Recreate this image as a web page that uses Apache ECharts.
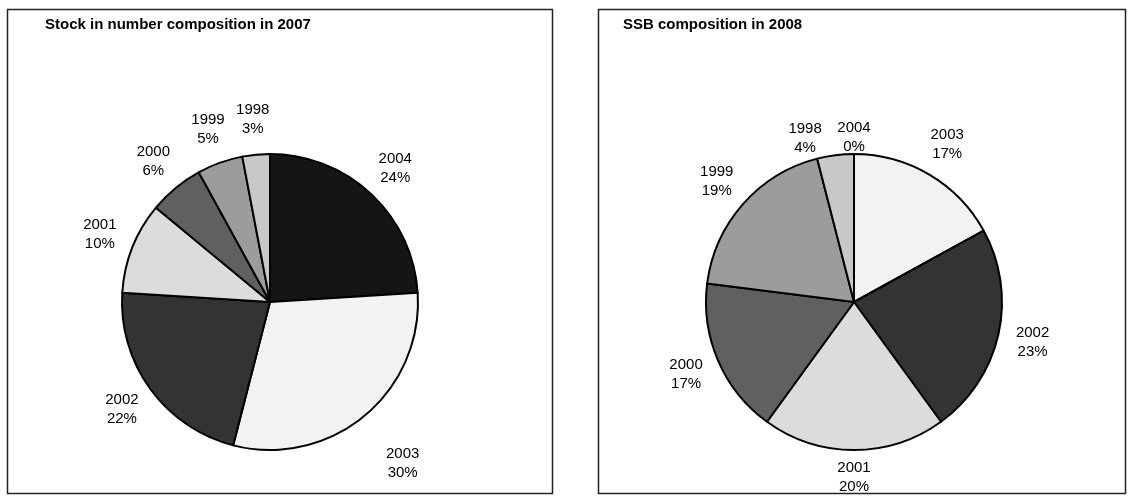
<!DOCTYPE html>
<html>
<head>
    <meta charset="UTF-8">
    <title>Stock and SSB composition</title>
    <script src="https://cdn.jsdelivr.net/npm/echarts@6/dist/echarts.min.js"></script>
    <style>
        html, body { margin: 0; padding: 0; background: #fff; }
        #chart { width: 1133px; height: 496px; }
    </style>
</head>
<body>
    <div id="chart"></div>
    <script>
        // year classes, clockwise from 12 o'clock
        const years = ['2004', '2003', '2002', '2001', '2000', '1999', '1998'];
        // stock in number, 2007 (%)
        const stock2007 = [24, 30, 22, 10, 6, 5, 3];
        // SSB, 2008 (%)
        const ssb2008 = [0, 17, 23, 20, 17, 19, 4];

        const fills = ['#151515', '#f2f2f2', '#333333', '#dcdcdc', '#606060', '#9c9c9c', '#c8c8c8'];
        const font = 'Liberation Sans, Arial, sans-serif';

        // label nudges where Excel put the label off the plain radial spot
        const stockNudge = { '2003': [16, 20] };
        const ssbNudge = { '1998': [-26, 18], '2004': [0, 18], '2001': [0, -8] };

        function pieSeries(values, cx, nudge) {
            return [{
                type: 'pie',
                center: [cx, 302],
                radius: 148,
                data: years.map((y, i) => ({ name: y, value: values[i], itemStyle: { color: fills[i] } })),
                label: { show: false },
                labelLine: { show: false },
                itemStyle: { borderColor: '#000', borderWidth: 2 },
                emphasis: { disabled: true },
                silent: true,
                animation: false
            }, {
                // transparent ring, only carries the centred outside labels
                type: 'pie',
                center: [cx, 302],
                radius: [172, 188],
                data: years.map((y, i) => ({ name: y, value: values[i] })),
                percentPrecision: 0,
                itemStyle: { color: 'rgba(0,0,0,0)', borderWidth: 0 },
                label: {
                    show: true,
                    position: 'inside',
                    formatter: '{b}\n{d}%',
                    color: '#000',
                    fontFamily: font,
                    fontSize: 15,
                    lineHeight: 19
                },
                labelLine: { show: false },
                labelLayout: function (p) {
                    const n = nudge[years[p.dataIndex]];
                    return n ? { dx: n[0], dy: n[1] } : {};
                },
                emphasis: { disabled: true },
                silent: true,
                animation: false
            }];
        }

        const chart = echarts.init(document.getElementById('chart'));
        chart.setOption({
            backgroundColor: '#fff',
            title: [{
                text: 'Stock in number composition in 2007',
                left: 40, top: 12,
                textStyle: { fontFamily: font, fontSize: 15, fontWeight: 'bold', color: '#000' }
            }, {
                text: 'SSB composition in 2008',
                left: 618, top: 12,
                textStyle: { fontFamily: font, fontSize: 15, fontWeight: 'bold', color: '#000' }
            }],
            graphic: [{
                type: 'rect',
                shape: { x: 7.5, y: 9.5, width: 545, height: 484 },
                style: { fill: null, stroke: '#222', lineWidth: 1.5 },
                z: -1
            }, {
                type: 'rect',
                shape: { x: 598.5, y: 9.5, width: 527, height: 484 },
                style: { fill: null, stroke: '#222', lineWidth: 1.5 },
                z: -1
            }],
            series: [...pieSeries(stock2007, 270, stockNudge), ...pieSeries(ssb2008, 854, ssbNudge)]
        });
    </script>
</body>
</html>
